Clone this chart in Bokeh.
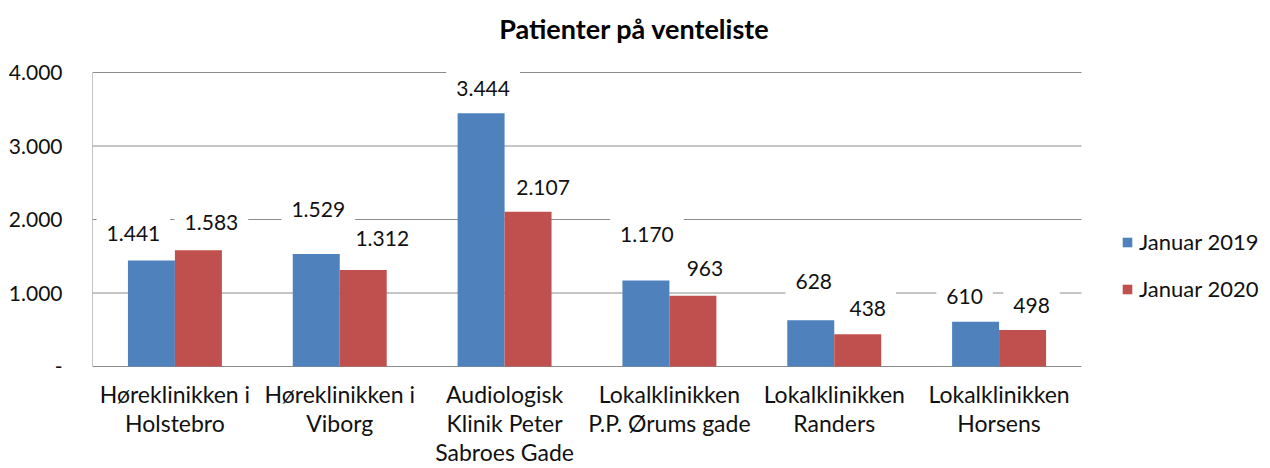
from bokeh.plotting import figure
from bokeh.models import (ColumnDataSource, Range1d, FixedTicker,
                          Legend, LegendItem)
from bokeh.transform import dodge
from bokeh.core.properties import value
from bokeh.embed import file_html
from bokeh.resources import INLINE

# ---------------- data ----------------
categories = [
    "Høreklinikken i\nHolstebro",
    "Høreklinikken i\nViborg",
    "Audiologisk\nKlinik Peter\nSabroes Gade",
    "Lokalklinikken\nP.P. Ørums gade",
    "Lokalklinikken\nRanders",
    "Lokalklinikken\nHorsens",
]
series_names = ["Januar 2019", "Januar 2020"]
jan2019 = [1441, 1529, 3444, 1170, 628, 610]
jan2020 = [1583, 1312, 2107, 963, 438, 498]
y_ticks = [0, 1000, 2000, 3000, 4000]
y_tick_labels = ["-", "1.000", "2.000", "3.000", "4.000"]
title_text = "Patienter på venteliste"

# ---------------- style / layout ----------------
BLUE = "#4F81BD"
RED = "#C0504D"
GRID = "#8C8C8C"
TXT = "#111111"
FONT = "Lato"
W, H = 1270, 468
LEFT = 92            # room for the value axis
PLOT_TOP = 72        # pixel row of the 4.000 line
PLOT_BOTTOM = 366    # pixel row of the zero line
PLOT_W = 989         # pixel width of the six category slots
TITLE_CX = 542       # title centre, pixels right of the plot's left edge
TITLE_CY = 28        # title centre, pixel row
# data-label nudges in pixels (x right, y up), as placed in the original
lab19_dx = [-18, 2, 2, 1, 3, -11]
lab19_up = [27, 45, 25, 46, 39, 25]
lab20_dx = [13, 19, 15, 12, 10, 9]
lab20_up = [28, 32, 24, 27, 26, 24]

n = len(categories)
ymax = y_ticks[-1]
ppu = (PLOT_BOTTOM - PLOT_TOP) / ymax        # pixels per value unit
cat_px = PLOT_W / n                          # pixels per category slot
frame_w = W - LEFT

def fmt(v):
    return f"{v:,}".replace(",", ".")

src = ColumnDataSource(dict(
    xc=[i + 0.5 for i in range(n)], cat=categories,
    y19=jan2019, y20=jan2020,
    l19=[fmt(v) for v in jan2019], l20=[fmt(v) for v in jan2020],
    dx19=lab19_dx, dy19=[-u for u in lab19_up],
    dx20=lab20_dx, dy20=[-u for u in lab20_up],
))

p = figure(width=W, height=H,
           x_range=Range1d(0, frame_w / cat_px),
           y_range=Range1d(-(H - PLOT_BOTTOM) / ppu, ymax + PLOT_TOP / ppu),
           x_axis_location=None, output_backend="svg",
           toolbar_location=None, min_border_left=LEFT, min_border_right=0,
           min_border_top=0, min_border_bottom=0)
p.outline_line_color = None
p.background_fill_color = "white"
p.border_fill_color = "white"
p.xgrid.visible = False
p.ygrid.visible = False

# gridlines and axis lines over the category area only
p.segment(x0=[0] * len(y_ticks), x1=[n] * len(y_ticks), y0=y_ticks,
          y1=y_ticks, line_color=GRID, line_width=1)
p.segment(x0=[0], x1=[0], y0=[y_ticks[0]], y1=[ymax], line_color=GRID,
          line_width=1)

BW = 0.285
r19 = p.vbar(x=dodge("xc", -BW / 2), top="y19", width=BW, source=src,
             fill_color=BLUE, line_color=None)
r20 = p.vbar(x=dodge("xc", BW / 2), top="y20", width=BW, source=src,
             fill_color=RED, line_color=None)

# data labels with white boxes
for ys, ts, dx, dy, off in [("y19", "l19", "dx19", "dy19", -BW / 2),
                            ("y20", "l20", "dx20", "dy20", BW / 2)]:
    p.text(x=dodge("xc", off), y=ys, text=ts, source=src,
           x_offset=dx, y_offset=dy, text_align="center",
           text_baseline="middle", text_font=value(FONT),
           text_font_size="21px", text_color=TXT,
           background_fill_color="white", padding=10)

# category labels under the zero line
p.text(x="xc", y=0, text="cat", source=src, y_offset=13,
       text_align="center", text_baseline="top", text_font=value(FONT),
       text_font_size="23px", text_color=TXT, text_line_height=1.05)

# title
p.text(x=[TITLE_CX / cat_px], y=[ymax + (PLOT_TOP - TITLE_CY) / ppu],
       text=[title_text], text_align="center", text_baseline="middle",
       text_font=value(FONT), text_font_size="27px", text_font_style="bold",
       text_color="black")

# value axis
p.yaxis.ticker = FixedTicker(ticks=y_ticks)
p.yaxis.major_label_overrides = {t: l for t, l in zip(y_ticks, y_tick_labels)}
p.yaxis.major_tick_in = 0
p.yaxis.major_tick_out = 0
p.yaxis.minor_tick_line_color = None
p.yaxis.axis_line_color = None
p.yaxis.major_label_standoff = 30
p.yaxis.major_label_text_font = FONT
p.yaxis.major_label_text_font_size = "21px"
p.yaxis.major_label_text_color = TXT

# legend, right of the category area
legend = Legend(items=[LegendItem(label=series_names[0], renderers=[r19]),
                       LegendItem(label=series_names[1], renderers=[r20])],
                location=(1029, 166), orientation="vertical",
                glyph_width=12, glyph_height=12, label_height=26,
                spacing=20, padding=0, margin=0, label_standoff=6,
                label_text_font=FONT, label_text_font_size="22px",
                label_text_color=TXT, border_line_color=None,
                background_fill_alpha=0)
p.add_layout(legend)

open("out.html", "w").write(file_html(p, INLINE))
